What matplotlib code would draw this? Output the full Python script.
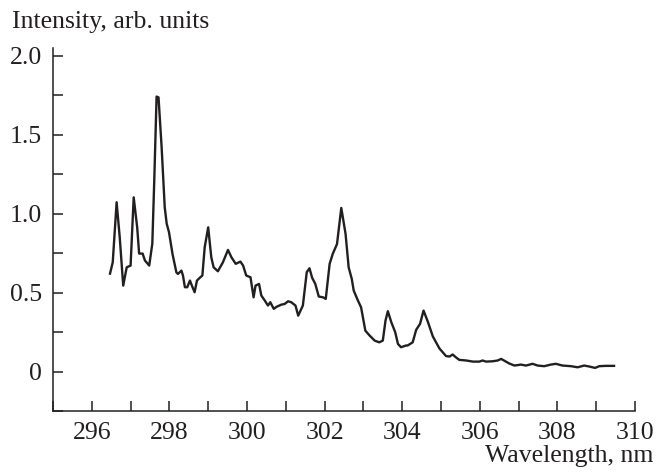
import numpy as np
import matplotlib
matplotlib.use("Agg")
import matplotlib.pyplot as plt
from matplotlib.ticker import MultipleLocator, FixedFormatter, FixedLocator

# spectrum
wavelength = [296.47, 296.54, 296.64, 296.72, 296.81, 296.90, 297.00, 297.08, 297.17, 297.22,
              297.31, 297.37, 297.48, 297.56, 297.61, 297.67, 297.72, 297.80, 297.88, 297.93,
              297.99, 298.08, 298.18, 298.22, 298.31, 298.35, 298.40, 298.46, 298.53, 298.58,
              298.65, 298.71, 298.78, 298.85, 298.91, 299.00, 299.08, 299.14, 299.25, 299.38,
              299.51, 299.60, 299.71, 299.83, 299.90, 299.98, 300.09, 300.17, 300.22, 300.31,
              300.37, 300.46, 300.54, 300.60, 300.69, 300.77, 300.89, 300.97, 301.06, 301.14,
              301.25, 301.32, 301.44, 301.54, 301.61, 301.68, 301.76, 301.85, 301.96, 302.03,
              302.13, 302.21, 302.32, 302.43, 302.54, 302.62, 302.70, 302.75, 302.86, 302.94,
              303.05, 303.16, 303.29, 303.41, 303.50, 303.57, 303.63, 303.72, 303.82, 303.89,
              303.97, 304.10, 304.14, 304.27, 304.36, 304.46, 304.55, 304.66, 304.79, 304.96,
              305.13, 305.22, 305.30, 305.39, 305.47, 305.65, 305.82, 305.99, 306.07, 306.16,
              306.33, 306.46, 306.55, 306.66, 306.76, 306.89, 307.06, 307.19, 307.36, 307.49,
              307.66, 307.83, 307.96, 308.13, 308.35, 308.52, 308.69, 308.82, 308.97, 309.08,
              309.25, 309.46]
intensity = [0.620, 0.692, 1.072, 0.850, 0.544, 0.660, 0.671, 1.103, 0.913, 0.747,
             0.747, 0.703, 0.671, 0.810, 1.209, 1.741, 1.736, 1.420, 1.040, 0.937,
             0.882, 0.745, 0.628, 0.618, 0.639, 0.608, 0.534, 0.534, 0.576, 0.544,
             0.502, 0.576, 0.593, 0.608, 0.787, 0.913, 0.723, 0.660, 0.635, 0.692,
             0.770, 0.723, 0.682, 0.696, 0.671, 0.608, 0.597, 0.470, 0.544, 0.555,
             0.481, 0.449, 0.418, 0.439, 0.397, 0.411, 0.424, 0.428, 0.445, 0.439,
             0.418, 0.354, 0.418, 0.629, 0.654, 0.593, 0.555, 0.475, 0.470, 0.460,
             0.682, 0.745, 0.808, 1.036, 0.872, 0.660, 0.587, 0.513, 0.449, 0.407,
             0.259, 0.228, 0.196, 0.185, 0.196, 0.323, 0.382, 0.312, 0.249, 0.175,
             0.154, 0.165, 0.165, 0.185, 0.264, 0.302, 0.386, 0.316, 0.222, 0.146,
             0.098, 0.095, 0.108, 0.089, 0.074, 0.070, 0.063, 0.063, 0.070, 0.063,
             0.065, 0.070, 0.080, 0.065, 0.051, 0.038, 0.044, 0.038, 0.049, 0.038,
             0.034, 0.044, 0.049, 0.038, 0.034, 0.027, 0.038, 0.032, 0.023, 0.034,
             0.036, 0.036]

y_ticks = [0, 0.5, 1.0, 1.5, 2.0]
y_labels = ["0", "0.5", "1.0", "1.5", "2.0"]

plt.rcParams['font.family'] = ['Liberation Serif', 'DejaVu Serif']
ink = '#231f20'

fig = plt.figure(figsize=(6.59, 4.73), dpi=100)
ax = fig.add_axes([0.0804, 0.131, 0.8832, 0.768])
ax.plot(wavelength, intensity, color=ink, lw=1.7, solid_joinstyle='round')

ax.set_xlim(295, 310)
ax.set_ylim(-0.25, 2.05)
ax.spines['top'].set_visible(False)
ax.spines['right'].set_visible(False)
for s in ('left', 'bottom'):
    ax.spines[s].set_linewidth(1.1)
    ax.spines[s].set_color(ink)

ax.xaxis.set_major_locator(MultipleLocator(2))
ax.xaxis.set_minor_locator(MultipleLocator(1))
ax.yaxis.set_major_locator(FixedLocator(y_ticks))
ax.yaxis.set_major_formatter(FixedFormatter(y_labels))
ax.yaxis.set_minor_locator(MultipleLocator(0.25))
ax.tick_params(which='both', direction='in', length=7, width=1.1, color=ink,
               labelsize=18.5, labelcolor=ink)
ax.tick_params(axis='x', pad=8)
ax.tick_params(axis='y', pad=8)

fig.text(0.018, 0.941, "Intensity, arb. units", fontsize=18.5, color=ink, va='baseline')
fig.text(0.991, 0.024, "Wavelength, nm", fontsize=18.5, color=ink, ha='right', va='baseline')

fig.savefig("out.png", dpi=100)
